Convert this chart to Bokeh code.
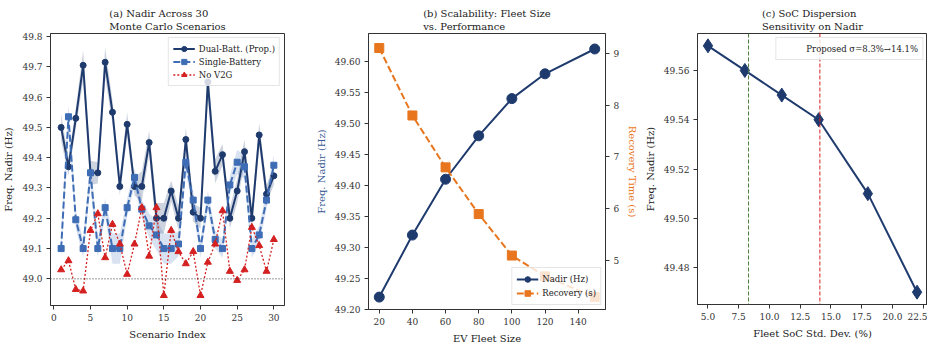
import numpy as np
from bokeh.plotting import figure
from bokeh.layouts import row
from bokeh.models import Range1d, LinearAxis, FixedTicker, PrintfTickFormatter, Span, Legend, LegendItem
from bokeh.embed import file_html
from bokeh.resources import INLINE

# ---------------- data ----------------
scenario = list(range(1, 31))
dual = [49.50, 49.37, 49.53, 49.705, 49.35, 49.35, 49.715, 49.55, 49.305, 49.51,
        49.305, 49.305, 49.45, 49.20, 49.20, 49.29, 49.20, 49.46, 49.22, 49.20,
        49.65, 49.355, 49.41, 49.20, 49.29, 49.42, 49.20, 49.475, 49.28, 49.34]
dual_std = [0.045, 0.03, 0.035, 0.05, 0.04, 0.035, 0.05, 0.04, 0.03, 0.04,
            0.03, 0.05, 0.04, 0.05, 0.05, 0.035, 0.04, 0.04, 0.03, 0.035,
            0.05, 0.04, 0.035, 0.035, 0.04, 0.04, 0.035, 0.04, 0.03, 0.03]
single = [49.10, 49.535, 49.195, 49.10, 49.35, 49.10, 49.235, 49.10, 49.10, 49.235,
          49.335, 49.23, 49.175, 49.145, 49.10, 49.10, 49.115, 49.385, 49.26, 49.10,
          49.26, 49.13, 49.10, 49.31, 49.385, 49.37, 49.10, 49.145, 49.26, 49.375]
single_std = [0.03, 0.04, 0.03, 0.03, 0.045, 0.03, 0.03, 0.05, 0.05, 0.03,
              0.03, 0.03, 0.04, 0.05, 0.05, 0.05, 0.04, 0.035, 0.03, 0.03,
              0.03, 0.03, 0.03, 0.03, 0.04, 0.04, 0.03, 0.03, 0.03, 0.035]
no_v2g = [49.03, 49.06, 48.965, 48.96, 49.16, 49.215, 49.07, 49.18, 49.115, 49.015,
          49.115, 49.235, 49.075, 49.235, 48.945, 49.16, 49.09, 49.05, 49.09, 48.945,
          49.055, 49.115, 49.225, 49.025, 48.995, 49.03, 49.17, 49.11, 49.025, 49.13]
threshold = 49.0

fleet = [20, 40, 60, 80, 100, 120, 150]
fleet_nadir = [49.22, 49.32, 49.41, 49.48, 49.54, 49.58, 49.62]
fleet_recovery = [9.1, 7.8, 6.8, 5.9, 5.1, 4.7, 4.3]

soc_std = [5, 8, 11, 14, 18, 22]
soc_nadir = [49.57, 49.56, 49.55, 49.54, 49.51, 49.47]
soc_lines = [8.3, 14.1]

# ---------------- style ----------------
FONT = "DejaVu Serif"
NAVY = "#1f3b6e"
BLUE = "#3e6db5"
RED = "#d42020"
ORANGE = "#e8761e"
GREEN = "#4c7a3c"
FRAME = "#333333"


def style(p, title):
    p.title.text = title
    p.title.align = "center"
    p.title.text_font = FONT
    p.title.text_font_size = "10px"
    p.title.text_font_style = "normal"
    p.title.text_color = "#222222"
    p.title.text_line_height = 1.2
    p.title.standoff = 3
    p.outline_line_color = FRAME
    p.outline_line_width = 1
    p.outline_line_alpha = 1
    p.xgrid.visible = False
    p.ygrid.visible = False
    p.background_fill_color = "white"
    p.border_fill_color = "white"
    for ax in p.axis:
        style_axis(ax)


def style_axis(ax):
    ax.axis_line_color = FRAME
    ax.major_tick_line_color = FRAME
    ax.major_tick_out = 4
    ax.major_tick_in = 0
    ax.minor_tick_line_color = None
    ax.major_label_text_font = FONT
    ax.major_label_text_font_size = "9px"
    ax.major_label_text_color = "#333333"
    ax.major_label_standoff = 4
    ax.axis_label_text_font = FONT
    ax.axis_label_text_font_size = "10px"
    ax.axis_label_text_font_style = "normal"
    ax.axis_label_text_color = "#222222"
    ax.axis_label_standoff = 5


def style_legend(lg):
    lg.label_text_font = FONT
    lg.label_text_font_size = "8.5px"
    lg.label_text_color = "#222222"
    lg.border_line_color = "#cccccc"
    lg.background_fill_alpha = 0.8
    lg.margin = 4
    lg.padding = 4
    lg.spacing = 0
    lg.label_height = 13
    lg.glyph_height = 13
    lg.glyph_width = 22
    lg.label_standoff = 4


# ---------------- panel (a) ----------------
pa = figure(frame_width=234, frame_height=272, min_border_left=49, min_border_right=16,
            min_border_top=32, min_border_bottom=31,
            x_range=Range1d(-0.45, 31.45), y_range=Range1d(48.912, 49.81),
            output_backend="svg", toolbar_location=None)
x = np.array(scenario)
d = np.array(dual); ds = np.array(dual_std)
s = np.array(single); ss = np.array(single_std)
pa.varea(x=x, y1=d - ds, y2=d + ds, fill_color=NAVY, fill_alpha=0.22)
pa.varea(x=x, y1=s - ss, y2=s + ss, fill_color=BLUE, fill_alpha=0.2)
pa.add_layout(Span(location=threshold, dimension="width", line_color="#333333",
                   line_dash="1 2", line_width=1))
r1l = pa.line(scenario, dual, line_color=NAVY, line_width=2)
r1m = pa.scatter(scenario, dual, marker="circle", size=6, fill_color=NAVY, line_color=NAVY)
r2l = pa.line(scenario, single, line_color=BLUE, line_width=2, line_dash="7 3")
r2m = pa.scatter(scenario, single, marker="square", size=6, fill_color=BLUE, line_color=BLUE)
r3l = pa.line(scenario, no_v2g, line_color=RED, line_width=1.3, line_dash="2 2")
r3m = pa.scatter(scenario, no_v2g, marker="triangle", size=7, fill_color=RED, line_color=RED)
style(pa, "(a) Nadir Across 30\nMonte Carlo Scenarios")
pa.xaxis.ticker = FixedTicker(ticks=[0, 5, 10, 15, 20, 25, 30])
pa.yaxis.ticker = FixedTicker(ticks=[49.0, 49.1, 49.2, 49.3, 49.4, 49.5, 49.6, 49.7, 49.8])
pa.yaxis.formatter = PrintfTickFormatter(format="%.1f")
pa.xaxis.axis_label = "Scenario Index"
pa.yaxis.axis_label = "Freq. Nadir (Hz)"
lga = Legend(items=[LegendItem(label="Dual-Batt. (Prop.)", renderers=[r1l, r1m]),
                    LegendItem(label="Single-Battery", renderers=[r2l, r2m]),
                    LegendItem(label="No V2G", renderers=[r3l, r3m])],
             location="top_right")
style_legend(lga)
pa.add_layout(lga)

# ---------------- panel (b) ----------------
pb = figure(frame_width=237, frame_height=276, min_border_left=68, min_border_right=36,
            min_border_top=29, min_border_bottom=30,
            x_range=Range1d(13.5, 156.5), y_range=Range1d(49.20, 49.645),
            output_backend="svg", toolbar_location=None)
pb.extra_y_ranges = {"rec": Range1d(4.06, 9.38)}
rb1l = pb.line(fleet, fleet_nadir, line_color=NAVY, line_width=2)
rb1m = pb.scatter(fleet, fleet_nadir, marker="circle", size=10, fill_color=NAVY, line_color=NAVY)
rb2l = pb.line(fleet, fleet_recovery, line_color=ORANGE, line_width=2, line_dash="7 3",
               y_range_name="rec")
rb2m = pb.scatter(fleet, fleet_recovery, marker="square", size=9, fill_color=ORANGE,
                  line_color=ORANGE, y_range_name="rec")
rb2l.level = "overlay"
rb2m.level = "overlay"
raxis = LinearAxis(y_range_name="rec", axis_label="Recovery Time (s)",
                   ticker=FixedTicker(ticks=[5, 6, 7, 8, 9]))
pb.add_layout(raxis, "right")
style(pb, "(b) Scalability: Fleet Size\nvs. Performance")
pb.xaxis.ticker = FixedTicker(ticks=[20, 40, 60, 80, 100, 120, 140])
pb.yaxis[0].ticker = FixedTicker(ticks=[49.20, 49.25, 49.30, 49.35, 49.40, 49.45, 49.50, 49.55, 49.60])
pb.yaxis[0].formatter = PrintfTickFormatter(format="%.2f")
pb.xaxis.axis_label = "EV Fleet Size"
pb.yaxis[0].axis_label = "Freq. Nadir (Hz)"
pb.yaxis[0].axis_label_text_color = "#3a5a94"
raxis.axis_label_text_color = ORANGE
lgb = Legend(items=[LegendItem(label="Nadir (Hz)", renderers=[rb1l, rb1m]),
                    LegendItem(label="Recovery (s)", renderers=[rb2l, rb2m])],
             location="bottom_right")
style_legend(lgb)
lgb.label_height = 14
lgb.glyph_height = 14
pb.add_layout(lgb)

# ---------------- panel (c) ----------------
pc = figure(frame_width=230, frame_height=271, min_border_left=47, min_border_right=0,
            min_border_top=33, min_border_bottom=31,
            x_range=Range1d(4.15, 22.85), y_range=Range1d(49.465, 49.575),
            output_backend="svg", toolbar_location=None)
pc.add_layout(Span(location=soc_lines[0], dimension="height", line_color=GREEN,
                   line_dash="4 2", line_width=1))
pc.add_layout(Span(location=soc_lines[1], dimension="height", line_color=RED,
                   line_dash="4 2", line_width=1))
rc_leg = pc.line(x=[], y=[], line_color=RED, line_dash="4 2", line_width=1.2)
pc.line(soc_std, soc_nadir, line_color=NAVY, line_width=2)
pc.scatter(soc_std, soc_nadir, marker="diamond", size=14, fill_color=NAVY, line_color=NAVY)
style(pc, "(c) SoC Dispersion\nSensitivity on Nadir")
pc.xaxis.ticker = FixedTicker(ticks=[5.0, 7.5, 10.0, 12.5, 15.0, 17.5, 20.0, 22.5])
pc.xaxis.formatter = PrintfTickFormatter(format="%.1f")
pc.yaxis.ticker = FixedTicker(ticks=[49.48, 49.50, 49.52, 49.54, 49.56])
pc.yaxis.formatter = PrintfTickFormatter(format="%.2f")
pc.xaxis.axis_label = "Fleet SoC Std. Dev. (%)"
pc.yaxis.axis_label = "Freq. Nadir (Hz)"
lgc = Legend(items=[LegendItem(label="Proposed σ=8.3%→14.1%", renderers=[rc_leg])],
             location="top_right")
style_legend(lgc)
pc.add_layout(lgc)

layout = row(pa, pb, pc, spacing=0)
open("out.html", "w").write(file_html(layout, INLINE))
